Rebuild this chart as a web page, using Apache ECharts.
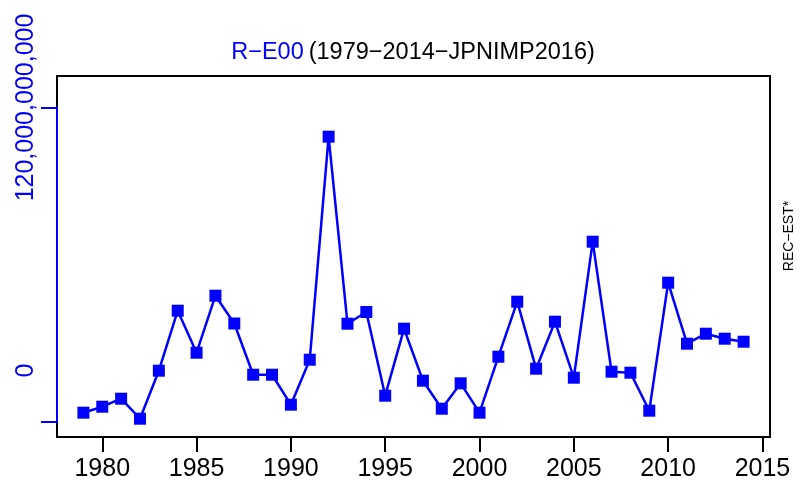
<!DOCTYPE html>
<html>
<head>
<meta charset="utf-8">
<script src="https://cdn.jsdelivr.net/npm/echarts@6/dist/echarts.min.js"></script>
<style>html,body{margin:0;padding:0;background:#fff}#c{width:808px;height:485px}</style>
</head>
<body>
<div id="c"></div>
<script>
// Data (values in billions)
const years = [1979,1980,1981,1982,1983,1984,1985,1986,1987,1988,1989,1990,1991,1992,1993,1994,1995,1996,1997,1998,1999,2000,2001,2002,2003,2004,2005,2006,2007,2008,2009,2010,2011,2012,2013,2014];
const recEst = [-19.25,-16.52,-12.87,-21.99,-0.09,27.28,8.12,34.13,21.44,-1.92,-1.92,-15.60,4.93,106.68,21.35,26.69,-11.50,19.07,-4.65,-17.43,-5.84,-19.25,6.30,31.39,0.82,22.27,-3.29,58.77,-0.55,-1.00,-18.34,40.06,12.23,16.79,14.51,13.14];
const xTicks = [1980,1985,1990,1995,2000,2005,2010,2015];
const yLabelValues = [0,120];
const yTickValues = [-23.5,120];
const titleMain = 'R−E00';
const titleSub = '(1979−2014−JPNIMP2016)';
const sideLabel = 'REC−EST*';

const FONT = '"Liberation Sans", Arial, Helvetica, sans-serif';
function fmt(v){ if (v === 0) return '0'; const n = Math.round(v*1e9).toString(); return n.replace(/\B(?=(\d{3})+(?!\d))/g, ','); }

const chart = echarts.init(document.getElementById('c'), null, {renderer:'canvas'});
chart.setOption({
  animation:false,
  backgroundColor:'#fff',
  title:{
    text:'{b|'+titleMain+'} {k|'+titleSub+'}',
    left:408, top:36, textAlign:'center',
    textStyle:{ rich:{
      b:{color:'#0000FF', fontSize:23.5, fontWeight:'normal', fontFamily:FONT},
      k:{color:'#000', fontSize:23.5, fontWeight:'normal', fontFamily:FONT}
    }}
  },
  grid:[
    {left:57, right:38, top:76, bottom:48, show:true, borderColor:'#000', borderWidth:2, backgroundColor:'transparent', z:-1},
    {left:57, right:38, top:107.5, bottom:63, show:false}
  ],
  xAxis:[
    {type:'value', gridIndex:0, min:1977.6, max:2015.4,
     axisLine:{show:false, onZero:false},
     axisTick:{show:true, customValues:xTicks, length:15, lineStyle:{color:'#000', width:2}},
     axisLabel:{show:true, customValues:xTicks, fontSize:25, color:'#000', fontFamily:FONT, margin:20, formatter:v=>String(v)},
     splitLine:{show:false}},
    {type:'value', gridIndex:1, min:1977.6, max:2015.4, show:false, axisLine:{onZero:false}}
  ],
  yAxis:[
    {type:'value', gridIndex:0, min:-30.34, max:134.37, show:false, splitLine:{show:false}},
    {type:'value', gridIndex:1, min:-23.5, max:120, position:'left', z:5,
     axisLine:{show:true, onZero:false, lineStyle:{color:'#0000FF', width:2}},
     axisTick:{show:true, customValues:yTickValues, length:16, lineStyle:{color:'#0000FF', width:2}},
     axisLabel:{show:true, customValues:yLabelValues, rotate:90, fontSize:25, color:'#0000FF', fontFamily:FONT, margin:18, formatter:fmt},
     splitLine:{show:false}}
  ],
  graphic:[
    {type:'text', x:789, y:236, rotation:Math.PI/2,
     style:{text:sideLabel, fontSize:14, fontFamily:FONT, fill:'#000', align:'center', verticalAlign:'middle'}}
  ],
  series:[
    {type:'line', xAxisIndex:0, yAxisIndex:0,
     data: years.map((y,i)=>[y, recEst[i]]),
     symbol:'rect', symbolSize:12, showSymbol:true,
     itemStyle:{color:'#0000FF'},
     lineStyle:{color:'#0000FF', width:2.5},
     clip:false}
  ]
});
</script>
</body>
</html>
